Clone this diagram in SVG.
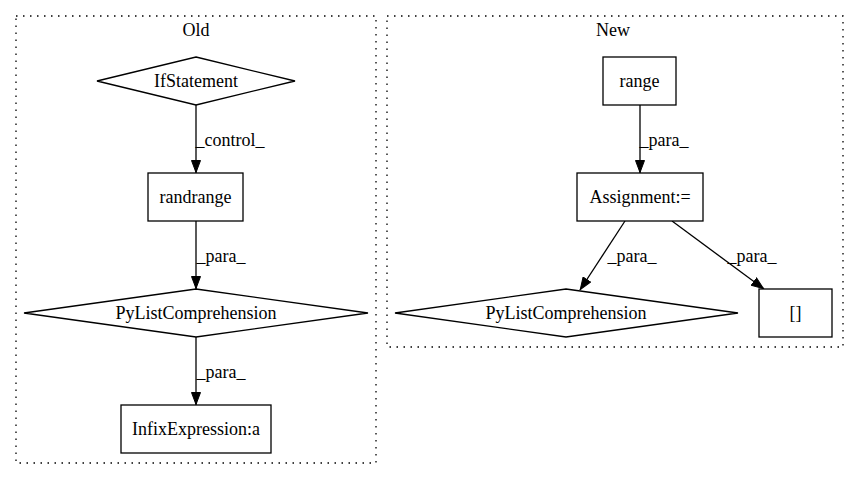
<svg xmlns="http://www.w3.org/2000/svg" width="859" height="480" viewBox="0 0 859 480">
<defs>
<style>
text{font-family:"Liberation Serif","Times New Roman",Times,serif;font-size:18px;fill:#000;text-anchor:middle}
.cl{fill:none;stroke:#000;stroke-width:1.3;stroke-dasharray:1.5,5.5}
.n{fill:#fff;stroke:#000;stroke-width:1.3}
.e{fill:none;stroke:#000;stroke-width:1.3}
</style>
<marker id="ah" viewBox="0 0 13 10" refX="13" refY="5" markerWidth="13" markerHeight="10" markerUnits="userSpaceOnUse" orient="auto">
<path d="M0.5,0.5 L12.5,5 L0.5,9.5 Z" fill="#000" stroke="#000"/>
</marker>
</defs>
<rect width="859" height="480" fill="#fff"/>
<g id="cluster_old">
<rect class="cl" x="16" y="16" width="360" height="447"/>
<text x="196" y="36">Old</text>
</g>
<g id="cluster_new">
<rect class="cl" x="387" y="16" width="456" height="331"/>
<text x="613" y="36">New</text>
</g>
<g id="edges">
<line class="e" x1="196" y1="105" x2="196" y2="173" marker-end="url(#ah)"/>
<text x="230" y="146">_control_</text>
<line class="e" x1="196" y1="221" x2="196" y2="289" marker-end="url(#ah)"/>
<text x="221" y="262">_para_</text>
<line class="e" x1="196" y1="337" x2="196" y2="405" marker-end="url(#ah)"/>
<text x="221" y="378">_para_</text>
<line class="e" x1="640" y1="105" x2="640" y2="173" marker-end="url(#ah)"/>
<text x="664" y="146">_para_</text>
<line class="e" x1="625" y1="221" x2="580" y2="290" marker-end="url(#ah)"/>
<text x="632" y="262">_para_</text>
<line class="e" x1="672" y1="221" x2="764" y2="289" marker-end="url(#ah)"/>
<text x="752" y="262">_para_</text>
</g>
<g id="IfStatement">
<polygon class="n" points="196,57 295,81 196,105 97,81"/>
<text x="196" y="87">IfStatement</text>
</g>
<g id="randrange">
<rect class="n" x="148" y="173" width="95" height="48"/>
<text x="195.5" y="203">randrange</text>
</g>
<g id="PyListComprehension_old">
<polygon class="n" points="196,289 368,313 196,337 24,313"/>
<text x="196" y="319">PyListComprehension</text>
</g>
<g id="InfixExpression">
<rect class="n" x="121" y="405" width="150" height="48"/>
<text x="196" y="435">InfixExpression:a</text>
</g>
<g id="range">
<rect class="n" x="603" y="57" width="73" height="48"/>
<text x="639.5" y="87">range</text>
</g>
<g id="Assignment">
<rect class="n" x="577" y="173" width="126" height="48"/>
<text x="640" y="203">Assignment:=</text>
</g>
<g id="PyListComprehension_new">
<polygon class="n" points="566,289 738,313 566,337 395,313"/>
<text x="566" y="319">PyListComprehension</text>
</g>
<g id="subscript">
<rect class="n" x="759" y="289" width="73" height="48"/>
<text x="795.5" y="319">[]</text>
</g>
</svg>
